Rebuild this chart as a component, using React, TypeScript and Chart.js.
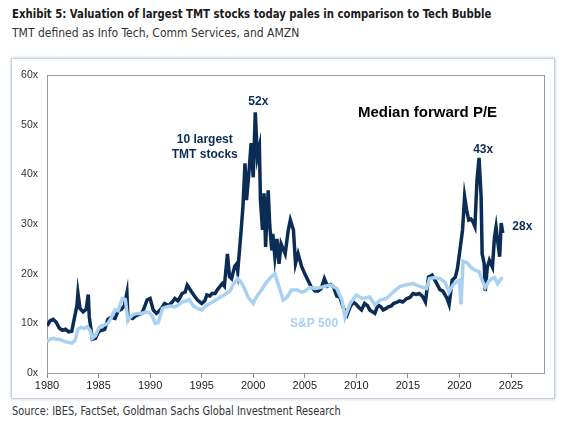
import React, { useEffect, useRef } from 'react';
import { Chart, registerables } from 'chart.js';

Chart.register(...registerables);

// ---- Data ----
const tmtYears = [
  1980.0, 1980.3, 1980.6, 1980.9, 1981.2, 1981.5, 1981.8, 1982.1, 1982.4, 1982.7, 1982.9, 1983.0, 1983.2, 1983.5, 1983.8,
  1984.0, 1984.1, 1984.4, 1984.7, 1985.0, 1985.3, 1985.6, 1985.9, 1986.2, 1986.6, 1986.9, 1987.2, 1987.5, 1987.75, 1987.85,
  1988.0, 1988.3, 1988.6, 1988.9, 1989.2, 1989.5, 1989.7, 1990.0, 1990.3, 1990.6, 1990.8, 1991.1, 1991.4, 1991.8, 1992.1,
  1992.4, 1992.7, 1993.1, 1993.4, 1993.6, 1994.0, 1994.3, 1994.6, 1995.0, 1995.3, 1995.5, 1995.8, 1996.0, 1996.3, 1996.5,
  1996.8, 1997.0, 1997.2, 1997.5, 1997.7, 1997.9, 1998.2, 1998.4, 1998.5, 1998.8, 1999.0, 1999.2, 1999.35, 1999.6, 1999.8,
  2000.0, 2000.2, 2000.4, 2000.6, 2000.7, 2000.9, 2001.05, 2001.2, 2001.45, 2001.6, 2001.8, 2001.9, 2002.1, 2002.3, 2002.5,
  2002.7, 2003.1, 2003.4, 2003.6, 2003.9, 2004.1, 2004.35, 2004.7, 2005.0, 2005.3, 2005.6, 2006.0, 2006.3, 2006.6, 2006.9,
  2007.2, 2007.5, 2007.8, 2008.1, 2008.4, 2008.7, 2009.1, 2009.4, 2009.7, 2010.0, 2010.2, 2010.5, 2010.8, 2011.1, 2011.3,
  2011.8, 2012.1, 2012.4, 2012.6, 2012.9, 2013.1, 2013.4, 2013.6, 2013.9, 2014.2, 2014.5, 2014.9, 2015.2, 2015.5, 2015.8,
  2016.1, 2016.4, 2016.7, 2017.0, 2017.35, 2017.8, 2018.1, 2018.4, 2018.8, 2019.0, 2019.3, 2019.6, 2019.8, 2020.0, 2020.3,
  2020.5, 2020.7, 2020.9, 2021.1, 2021.3, 2021.5, 2021.7, 2021.9, 2022.1, 2022.2, 2022.4, 2022.5, 2022.7, 2022.9, 2023.2,
  2023.4, 2023.55, 2023.7, 2023.9, 2024.05, 2024.2,
];
const tmtValues = [
  9.5, 10.5, 10.8, 10.2, 9.0, 8.6, 8.8, 8.3, 8.4, 11.5, 13.5, 16.1, 13.0, 12.3, 12.8,
  15.8, 11.3, 6.8, 7.0, 8.3, 8.6, 8.8, 10.8, 11.2, 11.0, 12.5, 12.8, 13.5, 16.1, 11.0,
  11.3, 11.0, 11.5, 11.8, 12.0, 13.5, 14.7, 15.0, 12.7, 12.0, 12.3, 13.0, 14.0, 13.6, 14.2,
  15.0, 14.5, 16.0, 16.3, 17.7, 16.4, 15.5, 14.7, 14.0, 14.5, 15.7, 15.5, 16.0, 16.0, 16.7,
  17.5, 18.0, 17.5, 24.0, 19.4, 19.0, 21.5, 22.0, 20.5, 28.0, 33.4, 42.2, 34.8, 40.8, 46.3,
  39.4, 52.5, 43.5, 45.5, 34.8, 28.8, 36.2, 25.4, 36.8, 29.8, 24.7, 28.0, 23.4, 27.0, 22.0,
  26.0, 24.0, 28.8, 30.8, 28.8, 22.0, 24.0, 21.4, 20.0, 18.7, 17.4, 16.5, 16.5, 17.0, 19.0,
  17.5, 17.8, 17.3, 15.5, 15.3, 13.3, 11.7, 13.3, 14.3, 13.8, 13.3, 12.7, 14.0, 13.5, 12.7,
  12.0, 13.7, 13.3, 12.7, 13.0, 13.3, 13.5, 14.0, 14.2, 14.5, 14.3, 15.0, 15.2, 16.0, 15.8,
  16.0, 15.5, 14.3, 19.3, 19.7, 18.0, 16.8, 16.5, 15.0, 13.8, 18.7, 19.3, 21.0, 24.0, 28.8,
  35.5, 32.8, 30.8, 31.0, 30.5, 29.5, 38.8, 43.3, 35.5, 24.0, 22.0, 16.5, 21.3, 22.7, 21.3,
  27.4, 29.4, 26.7, 23.4, 30.2, 28.2,
];

const spxYears = [
  1980.0, 1980.3, 1980.6, 1980.9, 1981.2, 1981.5, 1981.8, 1982.1, 1982.4, 1982.7, 1983.0, 1983.3, 1983.6, 1983.9, 1984.2,
  1984.4, 1984.7, 1985.0, 1985.3, 1985.6, 1985.9, 1986.2, 1986.6, 1986.9, 1987.3, 1987.6, 1987.85, 1988.1, 1988.4, 1988.8,
  1989.2, 1989.6, 1989.9, 1990.2, 1990.5, 1990.8, 1991.2, 1991.6, 1992.0, 1992.4, 1992.8, 1993.1, 1993.5, 1993.8, 1994.2,
  1994.6, 1995.0, 1995.4, 1995.8, 1996.2, 1996.6, 1997.0, 1997.4, 1997.8, 1998.1, 1998.5, 1998.8, 1999.0, 1999.5, 2000.0,
  2000.3, 2000.8, 2001.2, 2001.7, 2002.1, 2002.4, 2002.9, 2003.3, 2003.7, 2004.3, 2004.7, 2005.0, 2005.5, 2006.0, 2006.5,
  2007.0, 2007.5, 2008.1, 2008.6, 2008.9, 2009.4, 2010.0, 2010.6, 2011.3, 2011.8, 2012.3, 2012.9, 2013.6, 2014.2, 2014.9,
  2015.5, 2016.1, 2016.5, 2016.8, 2017.1, 2017.6, 2018.1, 2018.6, 2019.0, 2019.4, 2019.8, 2020.0, 2020.15, 2020.35, 2020.75,
  2021.1, 2021.5, 2021.9, 2022.2, 2022.5, 2022.9, 2023.4, 2023.7, 2024.05, 2024.2,
];
const spxValues = [
  6.3, 6.8, 7.0, 6.8, 6.8, 6.5, 6.3, 6.2, 6.0, 6.5, 8.8, 9.2, 9.0, 9.3, 8.5,
  7.0, 7.5, 9.0, 9.5, 9.7, 10.0, 11.0, 12.7, 12.5, 15.0, 14.8, 10.5, 11.3, 11.8, 12.0,
  12.0, 12.3, 12.2, 11.5, 10.0, 10.2, 13.0, 13.3, 13.5, 13.3, 13.8, 14.3, 14.5, 14.8, 13.5,
  13.0, 12.7, 13.5, 14.0, 14.5, 15.0, 15.5, 16.0, 16.7, 18.0, 19.0, 18.3, 17.7, 15.3, 14.0,
  15.3, 16.7, 18.0, 19.3, 20.0, 18.0, 14.7, 15.3, 16.7, 16.7, 16.3, 16.5, 17.2, 17.0, 17.2,
  17.5, 17.7, 17.0, 14.7, 11.2, 14.0, 15.7, 15.0, 15.3, 13.7, 14.7, 15.0, 16.3, 17.4, 17.8,
  18.0, 17.5, 17.2, 17.0, 19.0, 19.2, 19.0, 18.3, 16.3, 17.8, 18.5, 18.7, 13.8, 22.5, 22.2,
  21.3, 20.7, 20.4, 18.7, 17.2, 18.7, 19.2, 18.0, 19.0, 19.2,
];

const xTickYears = [1980, 1985, 1990, 1995, 2000, 2005, 2010, 2015, 2020, 2025];
const yTickValues = [0, 10, 20, 30, 40, 50, 60];

const NAVY = '#0b2d55';
const LIGHT = '#a9d1f1';

const annotations = [
  { lines: ['52x'], x: 2000.5, y: 54.6, color: NAVY, size: 12 },
  { lines: ['10 largest', 'TMT stocks'], x: 1995.3, y: 46.9, color: NAVY, size: 12 },
  { lines: ['Median forward P/E'], x: 2016.9, y: 52.3, color: '#000000', size: 15 },
  { lines: ['43x'], x: 2022.3, y: 45.0, color: NAVY, size: 12 },
  { lines: ['28x'], x: 2026.1, y: 29.4, color: NAVY, size: 12 },
  { lines: ['S&P 500'], x: 2005.9, y: 10.0, color: LIGHT, size: 12 },
];

const FONT = '"Liberation Sans", Arial, sans-serif';
const NARROW = '"DejaVu Sans Condensed", "Liberation Sans", sans-serif';

const framePlugin = {
  id: 'frameAndNotes',
  beforeDatasetsDraw(chart: any) {
    const { ctx, chartArea } = chart;
    ctx.save();
    ctx.strokeStyle = '#9a9a9a';
    ctx.lineWidth = 1;
    ctx.strokeRect(Math.round(chartArea.left) + 0.5, Math.round(chartArea.top) + 0.5,
      Math.round(chartArea.right - chartArea.left), Math.round(chartArea.bottom - chartArea.top));
    ctx.restore();
  },
  afterDraw(chart: any) {
    const { ctx, scales } = chart;
    ctx.save();
    ctx.textAlign = 'center';
    ctx.textBaseline = 'middle';
    for (const a of annotations) {
      ctx.font = `bold ${a.size}px ${FONT}`;
      ctx.fillStyle = a.color;
      const px = scales.x.getPixelForValue(a.x);
      const py = scales.y.getPixelForValue(a.y);
      a.lines.forEach((t, i) => ctx.fillText(t, px, py + i * 15));
    }
    ctx.restore();
  },
};

export default function App() {
  const ref = useRef<HTMLCanvasElement | null>(null);

  useEffect(() => {
    if (!ref.current) return;
    const chart = new Chart(ref.current, {
      type: 'line',
      data: {
        datasets: [
          {
            label: 'S&P 500',
            data: spxYears.map((x, i) => ({ x, y: spxValues[i] })),
            borderColor: LIGHT,
            borderWidth: 3.5,
            pointRadius: 0,
            tension: 0,
            order: 0,
          },
          {
            label: '10 largest TMT stocks',
            data: tmtYears.map((x, i) => ({ x, y: tmtValues[i] })),
            borderColor: NAVY,
            borderWidth: 3.5,
            pointRadius: 0,
            tension: 0,
            order: 1,
          },
        ],
      },
      options: {
        animation: false,
        responsive: false,
        maintainAspectRatio: false,
        layout: { padding: { left: 0, top: 17, right: 11, bottom: 0 } },
        plugins: { legend: { display: false }, tooltip: { enabled: false } },
        scales: {
          x: {
            type: 'linear',
            min: 1980,
            max: 2028.2,
            afterBuildTicks: (s: any) => { s.ticks = xTickYears.map((v) => ({ value: v })); },
            afterFit: (s: any) => { s.height = 25; },
            ticks: {
              callback: (v: any) => String(v),
              font: { size: 11, family: FONT },
              color: '#222222',
              padding: 1,
              maxRotation: 0,
              autoSkip: false,
            },
            grid: { display: true, drawOnChartArea: false, drawTicks: true, tickLength: 5, color: '#8a8a8a' },
            border: { display: true, color: '#8a8a8a' },
          },
          y: {
            min: 0,
            max: 60,
            afterBuildTicks: (s: any) => { s.ticks = yTickValues.map((v) => ({ value: v })); },
            afterFit: (s: any) => { s.width = 35; },
            ticks: {
              callback: (v: any) => `${v}x`,
              font: { size: 10.5, family: FONT },
              color: '#333333',
              padding: 9,
            },
            grid: { display: false, drawTicks: false },
            border: { display: true, color: '#8a8a8a' },
          },
        },
      },
      plugins: [framePlugin],
    } as any);
    return () => chart.destroy();
  }, []);

  return (
    <div style={{ position: 'fixed', left: 0, top: 0, width: 564, height: 431, background: '#fff', overflow: 'hidden' }}>
      <div style={{
        position: 'absolute', left: 12, top: 6, font: `bold 13px ${NARROW}`, color: '#1a1a1a', whiteSpace: 'nowrap',
        transform: 'scaleX(0.866)', transformOrigin: 'left top',
      }}>
        Exhibit 5: Valuation of largest TMT stocks today pales in comparison to Tech Bubble
      </div>
      <div style={{ position: 'absolute', left: 12, top: 26, font: `12px ${NARROW}`, color: '#333', whiteSpace: 'nowrap' }}>
        TMT defined as Info Tech, Comm Services, and AMZN
      </div>
      <div style={{
        position: 'absolute', left: 11, top: 58, width: 544, height: 341, boxSizing: 'border-box',
        border: '1px solid #c6d1dd', boxShadow: '0 0 3px rgba(120,150,185,0.55)',
      }} />
      <canvas ref={ref} width={543} height={340}
        style={{ position: 'absolute', left: 12, top: 58, width: 543, height: 340 }} />
      <div style={{
        position: 'absolute', left: 12, top: 404, font: `12px ${NARROW}`, color: '#333', whiteSpace: 'nowrap',
        transform: 'scaleX(0.91)', transformOrigin: 'left top',
      }}>
        Source: IBES, FactSet, Goldman Sachs Global Investment Research
      </div>
    </div>
  );
}
